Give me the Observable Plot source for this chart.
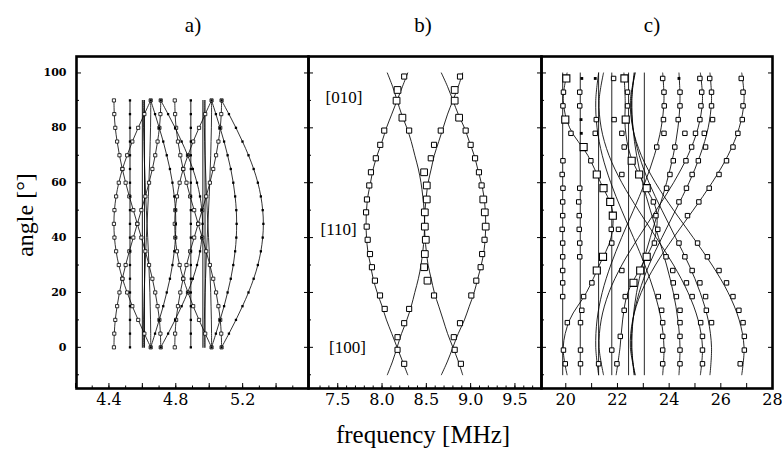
<!DOCTYPE html>
<html><head><meta charset="utf-8">
<script src="https://cdn.jsdelivr.net/npm/d3@7"></script>
<script src="https://cdn.jsdelivr.net/npm/@observablehq/plot@0.6"></script>
<style>
html,body{margin:0;padding:0;background:#fff;}
#fig{position:relative;width:782px;height:449px;overflow:hidden;color:#000;
  font-family:"Liberation Serif","Times New Roman",Times,"Nimbus Roman","Tinos","FreeSerif","Noto Serif","DejaVu Serif",serif;}
.lbl{position:absolute;white-space:nowrap;line-height:1;transform:translate(-50%,-50%);}
</style></head><body>
<div id="fig">
  <div class="lbl" style="left:193px;top:25px;font-size:21px">a)</div>
  <div class="lbl" style="left:423px;top:25px;font-size:21px">b)</div>
  <div class="lbl" style="left:652px;top:25px;font-size:21px">c)</div>
  <div class="lbl" style="left:423px;top:434px;font-size:25px">frequency [MHz]</div>
  <div class="lbl" style="left:25px;top:215px;font-size:24px;transform:translate(-50%,-50%) rotate(-90deg)">angle [°]</div>
</div>
<script>
// ---------- panel a (angles 0..90 step 5) ----------
const angA = [0,5,10,15,20,25,30,35,40,45,50,55,60,65,70,75,80,85,90];
const aX1  = [4.710,4.708,4.702,4.691,4.677,4.660,4.640,4.618,4.594,4.570,4.546,4.522,4.500,4.480,4.463,4.449,4.438,4.432,4.430];
const aX1m = [4.430,4.432,4.438,4.449,4.463,4.480,4.500,4.522,4.546,4.570,4.594,4.618,4.640,4.660,4.677,4.691,4.702,4.708,4.710];
const aR1  = [4.710,4.754,4.796,4.835,4.871,4.902,4.927,4.945,4.956,4.960,4.956,4.945,4.927,4.902,4.871,4.835,4.796,4.754,4.710];
const aL1  = [4.650,4.612,4.575,4.540,4.509,4.481,4.459,4.443,4.433,4.430,4.433,4.443,4.459,4.481,4.509,4.540,4.575,4.612,4.650];
const aR2  = [4.650,4.676,4.701,4.725,4.746,4.765,4.780,4.791,4.798,4.800,4.798,4.791,4.780,4.765,4.746,4.725,4.701,4.676,4.650];
const aX3  = [4.650,4.650,4.649,4.647,4.645,4.642,4.639,4.636,4.632,4.628,4.624,4.620,4.617,4.614,4.611,4.609,4.607,4.606,4.606];
const aX3m = [4.606,4.606,4.607,4.609,4.611,4.614,4.617,4.620,4.624,4.628,4.632,4.636,4.639,4.642,4.645,4.647,4.649,4.650,4.650];
const aX2  = [5.074,5.072,5.066,5.055,5.041,5.024,5.004,4.982,4.958,4.934,4.910,4.886,4.864,4.844,4.827,4.813,4.802,4.796,4.794];
const aX2m = [4.794,4.796,4.802,4.813,4.827,4.844,4.864,4.886,4.910,4.934,4.958,4.982,5.004,5.024,5.041,5.055,5.066,5.072,5.074];
const aR1b = [5.074,5.118,5.160,5.199,5.235,5.266,5.291,5.309,5.320,5.324,5.320,5.309,5.291,5.266,5.235,5.199,5.160,5.118,5.074];
const aL1b = [5.014,4.976,4.939,4.904,4.873,4.845,4.823,4.807,4.797,4.794,4.797,4.807,4.823,4.845,4.873,4.904,4.939,4.976,5.014];
const aR2b = [5.014,5.040,5.065,5.089,5.110,5.129,5.144,5.155,5.162,5.164,5.162,5.155,5.144,5.129,5.110,5.089,5.065,5.040,5.014];
const aX4  = [5.014,5.014,5.013,5.011,5.009,5.006,5.003,5.000,4.996,4.992,4.988,4.984,4.981,4.978,4.975,4.973,4.971,4.970,4.970];
const aX4m = [4.970,4.970,4.971,4.973,4.975,4.978,4.981,4.984,4.988,4.992,4.996,5.000,5.003,5.006,5.009,5.011,5.013,5.014,5.014];
const aVert = [4.526, 4.600, 4.613, 4.890, 4.962, 4.975];
const aVertMarked = [4.526, 4.890];
const aHollow = [aX1, aX1m, aL1, aX2, aX2m, aL1b];
const aFilled = [aR1, aR2, aR1b, aR2b];
const aPlain = [aX3, aX3m, aX4, aX4m];

// ---------- panel b ----------
const bAng = [-10,-5,0,5,10,15,20,25,30,35,40,45,50,55,60,65,70,75,80,85,90,95,100];
const bA = [8.29,8.23,8.17,8.11,8.05,8.00,7.945,7.90,7.87,7.84,7.825,7.82,7.825,7.84,7.87,7.90,7.945,8.00,8.05,8.11,8.17,8.23,8.29];
const bB = [8.06,8.12,8.17,8.22,8.28,8.33,8.37,8.41,8.44,8.46,8.475,8.48,8.475,8.46,8.44,8.41,8.37,8.33,8.28,8.22,8.17,8.12,8.06];
const bC = [8.91,8.86,8.80,8.74,8.69,8.64,8.59,8.555,8.52,8.50,8.485,8.48,8.485,8.50,8.52,8.555,8.59,8.64,8.69,8.74,8.80,8.86,8.91];
const bD = [8.67,8.74,8.80,8.86,8.93,8.985,9.04,9.08,9.12,9.15,9.165,9.17,9.165,9.15,9.12,9.08,9.04,8.985,8.93,8.86,8.80,8.74,8.67];
const bMkAng  = [98.7,93.8,89.9,79,73.8,68.9,63.8,59,53.9,49.2,44,39.2,34,29.2,24.3,18.9,14,3.7,-0.9,-6,
                 83.7,79,8.8,14, 63.8,59,53.9,49.2,44,39.2,34,29.2,24.3, 79,73.8,68.9,18.9,
                 98.7,93.8,89.9,83.7,79,73.8,68.9,63.8,59,53.9,49.2,44,39.2,34,29.2,24.3,18.9,8.8,3.7,-0.9,-6];
const bMkFreq = [8.25,8.175,8.164,8.025,7.98,7.93,7.875,7.856,7.83,7.82,7.827,7.838,7.864,7.886,7.92,7.977,8.03,8.175,8.175,8.25,
                 8.23,8.306,8.25,8.306, 8.475,8.505,8.505,8.483,8.483,8.494,8.483,8.475,8.513, 8.663,8.587,8.55,8.587,
                 8.88,8.82,8.82,8.87,8.944,9.0,9.05,9.094,9.124,9.143,9.16,9.17,9.157,9.13,9.113,9.064,9.008,8.88,8.81,8.82,8.89];
const bMkBig  = [0,1,1,0,0,0,0,0,0,0,0,0,0,0,0,0,0,0,0,0,
                 1,0,0,0, 1,1,1,1,1,1,1,1,1, 0,0,0,0,
                 0,1,1,1,0,0,0,0,0,1,1,1,0,0,0,0,0,0,0,0,0];
const bDirLabels = ["[010]","[110]","[100]"];
const bDirAngle = [91, 43, 0];
const bDirFreq = [7.57, 7.51, 7.61];

// ---------- panel c ----------
const cAng = [-10,0,10,20,30,40,50,60,70,80,90,100];
const cP1 = [22.69,22.50,22.59,22.92,23.47,24.17,24.93,25.66,26.28,26.71,26.90,26.81];
const cQ1 = [26.81,26.90,26.71,26.28,25.66,24.93,24.17,23.47,22.92,22.59,22.50,22.69];
const cP2 = [22.67,22.54,22.60,22.84,23.22,23.72,24.25,24.77,25.20,25.51,25.64,25.58];
const cQ2 = [25.58,25.64,25.51,25.20,24.77,24.25,23.72,23.22,22.84,22.60,22.54,22.67];
const cP3 = [21.46,21.29,21.37,21.67,22.17,22.81,23.50,24.17,24.73,25.12,25.29,25.21];
const cQ3 = [25.21,25.29,25.12,24.73,24.17,23.50,22.81,22.17,21.67,21.37,21.29,21.46];
const cP4 = [22.64,22.56,22.60,22.74,22.97,23.27,23.59,23.90,24.16,24.34,24.42,24.38];
const cQ4 = [24.38,24.42,24.34,24.16,23.90,23.59,23.27,22.97,22.74,22.60,22.56,22.64];
const cP5 = [21.27,21.16,21.21,21.41,21.74,22.16,22.62,23.06,23.43,23.69,23.80,23.75];
const cQ5 = [23.75,23.80,23.69,23.43,23.06,22.62,22.16,21.74,21.41,21.21,21.16,21.27];
const cK1 = [20.05,19.90,20.15,20.80,21.30,21.75,21.80,21.35,20.85,20.15,19.90,20.05];
const cK2 = [21.95,22.10,22.20,22.40,22.95,23.45,23.50,23.00,22.50,22.30,22.30,22.25];
const cVert = [19.88, 20.56, 21.27, 21.78, 22.43, 23.04];
const cVertRange = [-10, 100];
const cRowAng = [98,93,88,83,78,73,68,63,58,53,48,43,38,33,28,23.5,18.5,13.5,9,4,-1,-6];
const cRowFreq = [
  [21.85,23.75,25.19,25.57,26.79],
  [19.91,20.54,22.39,23.8,24.42,25.26,25.64,26.86],
  [19.89,20.54,22.39,23.81,24.42,25.23,25.64,26.86],
  [21.18,21.87,23.78,24.35,25.19,25.68,26.83],
  [20.2,21.14,22.17,23.8,24.61,25.02,25.36,26.66],
  [22.26,23.52,24.22,24.87,25.41,26.47],
  [19.89,20.97,24.16,24.65,25.13,26.22],
  [19.86,22.17,24.03,24.89,25.93],
  [19.89,20.54,23.9,24.67,25.55],
  [19.88,20.5,23.39,24.38,25.15],
  [19.88,20.52,23.49,24.71],
  [19.86,20.52,21.76,22.04,23.56],
  [19.88,20.54,21.78,23.43,24.38,25.1],
  [19.88,20.54,23.88,24.61,25.48],
  [19.88,22.17,24.14,24.89,25.93],
  [19.88,21.01,24.16,24.67,25.19,26.22],
  [19.88,20.69,22.3,23.58,24.28,24.89,25.41,26.47],
  [20.62,22.26,23.71,24.42,25.44,26.7],
  [20.06,20.57,23.75,24.42,25.22,25.64,26.86],
  [22.11,23.75,24.42,25.29,26.91],
  [19.91,20.57,21.78,23.75,24.42,25.29,26.91],
  [19.98,20.57,21.27,21.98,23.75,24.42,25.29,26.75]];
const cBigAng  = [98,98,83,83,73,68,63,63,58,58,53,48,33,33,28,28,23.5];
const cBigFreq = [20.02,22.27,19.98,22.32,20.69,22.55,21.2,22.84,21.46,23.13,21.72,21.82,21.44,23.13,21.2,22.88,22.62];
const cDotAng  = [98,98,98,83,78];
const cDotFreq = [20.62,21.14,24.38,20.59,20.6];

// ---------- helpers ----------
const yMajor = [0,20,40,60,80,100];
const yMinor = [-10,10,30,50,70,90];
const fig = document.getElementById("fig");
function rows(list, angles){ return list.flatMap((vals,i)=>angles.map((a,j)=>({s:i, a, f:vals[j]}))); }
function vertRows(vals, range){ return vals.flatMap((v,i)=>range.map(a=>({s:i,a,f:v}))); }
const lineOpt = {x:"f", y:"a", z:"s", curve:"catmull-rom", stroke:"black", strokeWidth:0.85};
const serif = "'Liberation Serif','Times New Roman',Times,'Nimbus Roman',Tinos,FreeSerif,'Noto Serif','DejaVu Serif',serif";
const wideSerif = "'DejaVu Serif','Century Schoolbook','C059','Liberation Serif','Times New Roman',serif";
const base = {height:380, marginTop:16, marginBottom:32, y:{domain:[-15,106]},
  style:{background:"transparent", overflow:"visible", fontFamily:wideSerif, fontSize:"16px"}};
function yAxes(){ return [
  Plot.axisY({anchor:"left", ticks:yMinor, tickSize:-3, tickFormat:()=>"", label:null}),
  Plot.axisY({anchor:"left", ticks:yMajor, tickSize:-5, tickFormat:()=>"", label:null}),
  Plot.axisY({anchor:"right", ticks:yMajor, tickSize:-5, tickFormat:()=>"", label:null})]; }
function xAxes(minor, major, labels, fmt){ return [
  Plot.axisX({anchor:"bottom", ticks:minor, tickSize:-2.5, tickFormat:()=>"", label:null}),
  Plot.axisX({anchor:"bottom", ticks:major, tickSize:-5, tickFormat:()=>"", label:null}),
  Plot.axisX({anchor:"bottom", ticks:labels, tickSize:0, tickPadding:5, tickFormat:fmt, label:null,
              fontSize:16, fontFamily:wideSerif})]; }
function place(svg, left){ svg.style.position="absolute"; svg.style.left=left+"px"; svg.style.top="40px"; fig.appendChild(svg); }

// panel a
const aAll = [...aHollow, ...aFilled, ...aPlain];
const aHollowRows = rows(aHollow, angA);
const aFilledRows = [...rows(aFilled, angA), ...vertRows(aVertMarked, angA)];
place(Plot.plot({...base, width:310, marginLeft:76, marginRight:2,
  x:{domain:[4.206,5.594]},
  marks:[
    Plot.line(rows(aAll, angA), {...lineOpt, strokeWidth:0.8}),
    Plot.line(vertRows(aVert, [0,90]), {...lineOpt, strokeWidth:0.9}),
    Plot.dot(aHollowRows, {x:"f", y:"a", symbol:"square", r:1.8, fill:"white", stroke:"black", strokeWidth:0.8}),
    Plot.dot(aFilledRows, {x:"f", y:"a", symbol:"square", r:1.3, fill:"black"}),
    ...yAxes(),
    Plot.axisY({anchor:"left", ticks:yMajor, tickSize:0, tickPadding:10, label:null,
                fontWeight:"bold", fontSize:11, fontFamily:wideSerif}),
    ...xAxes(d3.range(4.3,5.55,0.1), d3.range(4.2,5.55,0.2), [4.4,4.8,5.2], d3.format(".1f")),
    Plot.frame({strokeWidth:2.6})
  ]}), 0);

// panel b
const bSq = bMkAng.map((a,i)=>({a, f:bMkFreq[i], big:bMkBig[i]}));
place(Plot.plot({...base, width:243, marginLeft:8, marginRight:2,
  x:{domain:[7.17,9.80]},
  marks:[
    Plot.line(rows([bA,bB,bC,bD], bAng), lineOpt),
    Plot.dot(bSq.filter(d=>!d.big), {x:"f", y:"a", symbol:"square", r:2.9, fill:"white", stroke:"black", strokeWidth:1}),
    Plot.dot(bSq.filter(d=>d.big), {x:"f", y:"a", symbol:"square", r:3.8, fill:"white", stroke:"black", strokeWidth:1}),
    Plot.text(bDirLabels, {x:(d,i)=>bDirFreq[i], y:(d,i)=>bDirAngle[i], text:d=>d,
      fontFamily:serif, fontSize:17}),
    ...yAxes(),
    ...xAxes(d3.range(7.3,9.75,0.1), [7.5,8.0,8.5,9.0,9.5], [7.5,8.0,8.5,9.0,9.5], d3.format(".1f")),
    Plot.frame({strokeWidth:2.6})
  ]}), 300);

// panel c
const cSmall = cRowAng.flatMap((a,i)=>cRowFreq[i].map(f=>({a,f})));
const cBig = cBigAng.map((a,i)=>({a, f:cBigFreq[i]}));
const cDots = cDotAng.map((a,i)=>({a, f:cDotFreq[i]}));
place(Plot.plot({...base, width:249, marginLeft:8, marginRight:10,
  x:{domain:[19.06,28]},
  marks:[
    Plot.line(rows([cP1,cQ1,cP2,cQ2,cP3,cQ3,cP4,cQ4,cP5,cQ5,cK1,cK2], cAng), lineOpt),
    Plot.line(vertRows(cVert, cVertRange), lineOpt),
    Plot.dot(cSmall, {x:"f", y:"a", symbol:"square", r:2.5, fill:"white", stroke:"black", strokeWidth:1}),
    Plot.dot(cBig, {x:"f", y:"a", symbol:"square", r:4, fill:"white", stroke:"black", strokeWidth:1.1}),
    Plot.dot(cDots, {x:"f", y:"a", symbol:"square", r:1.6, fill:"black"}),
    ...yAxes(),
    ...xAxes([], d3.range(20,28.1,1), [20,22,24,26,28], d3.format("d")),
    Plot.frame({strokeWidth:2.6})
  ]}), 533);
</script>
</body></html>
